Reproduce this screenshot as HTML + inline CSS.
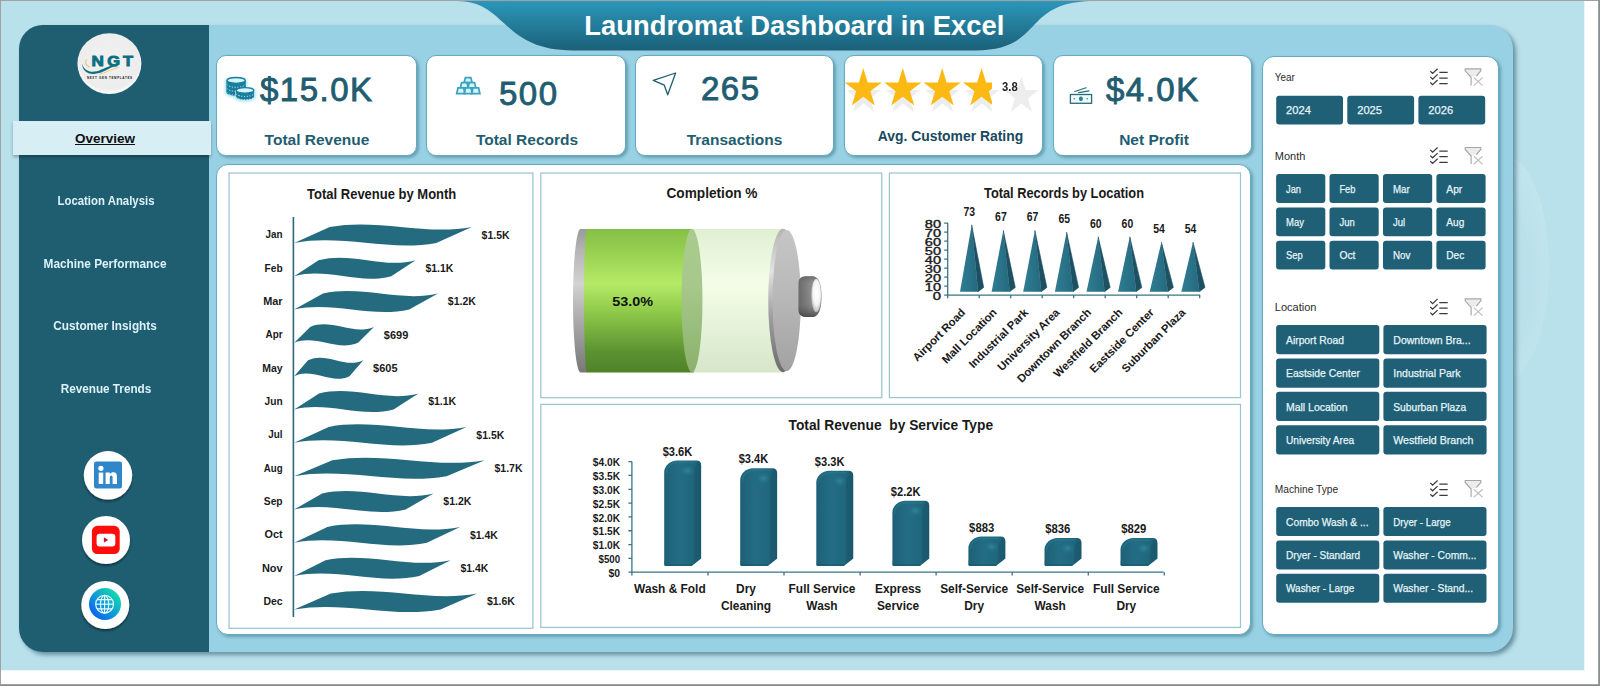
<!DOCTYPE html>
<html lang="en">
<head>
<meta charset="utf-8">
<title>Laundromat Dashboard in Excel</title>
<style>
html,body{margin:0;padding:0;}
body{width:1600px;height:686px;position:relative;overflow:hidden;background:#ffffff;font-family:"Liberation Sans",sans-serif;color:#111;}
.abs{position:absolute;}
#gray{left:0;top:0;width:1600px;height:686px;background:#8a8c8d;}
#white{left:1px;top:1px;width:1597px;height:683px;background:#fff;box-shadow:0 0 0 .6px #aeb4b6;}
#bg{left:1px;top:1px;width:1583px;height:669px;background:#b9e1eb;overflow:hidden;box-shadow:.6px .6px 0 0 #dcf0f5;}
#arc{left:1461px;top:156px;width:88px;height:224px;border-radius:50%;background:radial-gradient(ellipse at 35% 55%,rgba(255,255,255,0) 45%,rgba(255,255,255,.12) 75%,rgba(255,255,255,.4) 100%);}
#panel{left:19px;top:25px;width:1494px;height:627px;border-radius:24px;background:#98d1e4;box-shadow:3px 3px 4px rgba(40,80,100,.55);}
#sidebar{left:19px;top:25px;width:190px;height:627px;border-radius:24px 0 0 24px;background:#1f5d71;}
#tab{left:13px;top:121px;width:198px;height:34px;background:#d8eef5;box-shadow:0 2px 3px rgba(0,0,0,.3);}
.nav{width:180px;text-align:center;color:#dcf2f8;font-weight:bold;font-size:12.3px;line-height:16px;white-space:nowrap;transform-origin:50% 50%;}
.card{background:#fff;border:1px solid #62abc0;border-radius:10px;box-sizing:border-box;box-shadow:2px 2px 3px rgba(50,100,120,.45);}
.kv{color:#1f5d71;font-size:33px;line-height:36px;white-space:nowrap;letter-spacing:1.5px;-webkit-text-stroke:.9px #1f5d71;}
.kl{color:#1f5d71;font-size:15.5px;font-weight:bold;line-height:18px;white-space:nowrap;text-align:center;}
</style>
</head>
<body>
<div id="gray" class="abs"></div>
<div id="white" class="abs"></div>
<div id="bg" class="abs"></div>
<div id="arc" class="abs"></div>
<div id="panel" class="abs"></div>
<div id="sidebar" class="abs"></div>

<!-- header banner -->
<svg class="abs" style="left:0;top:0" width="1600" height="60" viewBox="0 0 1600 60">
<defs><linearGradient id="bn" x1="0" y1="0" x2="0" y2="1"><stop offset="0" stop-color="#2b97ba"/><stop offset="1" stop-color="#1b6078"/></linearGradient></defs>
<path d="M457 1 C507 1 501 50.5 573 50.5 L975 50.5 C1046 50.5 1020 1 1095 1 Z" fill="url(#bn)"/>
</svg>
<div class="abs" id="title" style="left:584.3px;top:8.6px;color:#fff;font-weight:bold;font-size:27.4px;line-height:34px;white-space:nowrap;">Laundromat Dashboard in Excel</div>

<!-- sidebar -->
<div id="tab" class="abs"></div>
<div class="abs" style="left:13px;top:130px;width:184px;text-align:center;font-weight:bold;font-size:13.5px;line-height:17px;text-decoration:underline;color:#111;">Overview</div>
<div class="abs nav" style="left:15.5px;top:193px;transform:scaleX(.925);">Location Analysis</div>
<div class="abs nav" style="left:14.7px;top:256px;transform:scaleX(.962);">Machine Performance</div>
<div class="abs nav" style="left:14.9px;top:318px;transform:scaleX(.96);">Customer Insights</div>
<div class="abs nav" style="left:16px;top:381px;transform:scaleX(.954);">Revenue Trends</div>

<!-- logo -->
<svg class="abs" style="left:70px;top:25px" width="80" height="76" viewBox="70 25 80 76">
<defs><radialGradient id="lg" cx=".5" cy=".45" r=".55"><stop offset="0" stop-color="#f1f1f1"/><stop offset=".85" stop-color="#ededed"/><stop offset="1" stop-color="#fbfbfb"/></radialGradient></defs>
<ellipse cx="109.4" cy="63.6" rx="32" ry="30.4" fill="url(#lg)"/>
<path d="M82.1 63.4 C83.5 69.5 88.5 72.2 94.5 71.6 C101.5 70.9 106 66.6 111.5 65.8 C114.5 65.4 117 66 119 66.8 C116 66.4 113.5 66.6 110.8 67.8 C105.5 70.2 101.5 73.6 94 73.9 C86.5 74.2 82.2 69.8 82.1 63.4 Z" fill="#0e6f82"/>
<path d="M86.6 59.6 C84.4 62 85.6 65.2 89.6 67.2" fill="none" stroke="#ecc36b" stroke-width="1.1"/>
<path d="M99 74.2 C106 73.2 111 69 118.8 67.2" fill="none" stroke="#ecc36b" stroke-width=".8"/>
<g font-family="Liberation Sans, sans-serif" font-weight="bold" font-size="15" text-anchor="middle" fill="#0e6f82" stroke="#0e6f82" stroke-width=".9">
<text transform="translate(97.6 66.1) scale(1.14 1)">N</text>
<text transform="translate(113.7 66.1) scale(1.1 1)">G</text>
<text transform="translate(128 66.1) scale(1.1 1)">T</text>
</g>
<text x="86.9" y="78.5" font-family="Liberation Sans, sans-serif" font-weight="bold" font-size="3" textLength="45.2" lengthAdjust="spacing" fill="#222">NEXT GEN TEMPLATES</text>
</svg>

<!-- social icons -->
<svg class="abs" style="left:70px;top:440px" width="80" height="200" viewBox="70 440 80 200">
<defs>
<linearGradient id="gg" x1="1" y1="0" x2="0" y2="1"><stop offset=".15" stop-color="#14d9ae"/><stop offset=".5" stop-color="#0f9fd8"/><stop offset=".9" stop-color="#0a5cf2"/></linearGradient>
<filter id="sh" x="-20%" y="-20%" width="140%" height="150%"><feGaussianBlur in="SourceAlpha" stdDeviation="1.2"/><feOffset dx="0" dy="1.5"/><feComponentTransfer><feFuncA type="linear" slope=".45"/></feComponentTransfer><feMerge><feMergeNode/><feMergeNode in="SourceGraphic"/></feMerge></filter>
</defs>
<circle cx="108" cy="475.3" r="24.2" fill="#fff" filter="url(#sh)"/>
<rect x="94" y="461.6" width="28" height="27" rx="2.5" fill="#2f86c9"/>
<circle cx="100.9" cy="468.3" r="2.6" fill="#fff"/>
<rect x="98.7" y="472.6" width="4.5" height="11.3" fill="#fff"/>
<path d="M105.6 472.6 h4.2 v1.6 c1-1.3 2.2-1.9 3.7-1.9 c2.6 0 3.5 1.9 3.5 4.6 v7 h-4.4 v-6.2 c0-1.3-.4-2.1-1.4-2.1 c-1 0-1.4.8-1.4 2.1 v6.2 h-4.2 z" fill="#fff"/>
<circle cx="106" cy="540" r="24" fill="#fff" filter="url(#sh)"/>
<rect x="91.9" y="525.8" width="27.8" height="28.2" rx="5.5" fill="#fe0d0d"/>
<rect x="96.6" y="533.8" width="18.7" height="12.6" rx="3.2" fill="#fff"/>
<path d="M103.9 537.3 L108.3 539.9 L103.9 542.5 Z" fill="#d40f2c"/>
<circle cx="105.3" cy="605" r="24" fill="#fff" filter="url(#sh)"/>
<circle cx="105" cy="604" r="16" fill="url(#gg)"/>
<g fill="none" stroke="#e8fbff" stroke-width="1.15">
<circle cx="104.6" cy="604.2" r="8.9"/>
<ellipse cx="104.6" cy="604.2" rx="4.1" ry="8.9"/>
<line x1="104.6" y1="595.3" x2="104.6" y2="613.1"/>
<line x1="95.7" y1="604.2" x2="113.5" y2="604.2"/>
<path d="M97 599.6 H112.2 M97 608.8 H112.2"/>
</g>
</svg>

<!-- KPI cards -->
<div class="abs card" style="left:216px;top:55px;width:201px;height:101px;"></div>
<div class="abs card" style="left:426px;top:55px;width:200px;height:101px;"></div>
<div class="abs card" style="left:635px;top:55px;width:199px;height:101px;"></div>
<div class="abs card" style="left:844px;top:55px;width:199px;height:101px;"></div>
<div class="abs card" style="left:1053px;top:55px;width:199px;height:101px;"></div>

<!-- KPI icons -->
<svg class="abs" style="left:216px;top:55px" width="1040" height="100" viewBox="216 55 1040 100">
<defs>
<filter id="glow" x="-30%" y="-30%" width="160%" height="160%"><feGaussianBlur stdDeviation="1.6"/></filter>
<clipPath id="sc"><rect x="840" y="60" width="152" height="60"/></clipPath>
</defs>
<!-- coins -->
<g>
<path d="M226.4 80.4 v12 a9.7 3.5 0 0 0 19.4 0 v-12 z M235.6 90.4 v6.4 a9.4 3.4 0 0 0 18.8 0 v-6.4z" fill="#9be6ef" stroke="#9be6ef" stroke-width="2.5" filter="url(#glow)"/>
<path d="M226.4 80.4 v12 a9.7 3.5 0 0 0 19.4 0 v-12 z" fill="#1a7d9e"/>
<ellipse cx="236.1" cy="80.4" rx="9.1" ry="2.9" fill="#d3f5fa" stroke="#1a7d9e" stroke-width="1.3"/>
<path d="M227.2 84.6 a9 3.2 0 0 0 17.8 0 M227.2 88.6 a9 3.2 0 0 0 17.8 0 M227.2 92.4 a9 3.2 0 0 0 17.8 0" fill="none" stroke="#d9f7fb" stroke-width="1" stroke-dasharray="1 1.7"/>
<path d="M235.6 90.4 v6.4 a9.4 3.4 0 0 0 18.8 0 v-6.4z" fill="#1a7d9e" stroke="#fff" stroke-width=".6"/>
<ellipse cx="245" cy="90.4" rx="8.8" ry="2.8" fill="#d3f5fa" stroke="#1a7d9e" stroke-width="1.3"/>
<path d="M236.4 94 a8.8 3.1 0 0 0 17.2 0 M236.4 97.4 a8.8 3.1 0 0 0 17.2 0" fill="none" stroke="#d9f7fb" stroke-width="1" stroke-dasharray="1 1.7"/>
</g>
<!-- gold bars -->
<g fill="#cdf6fb" stroke="#3fa1bc" stroke-width="1.75" stroke-linejoin="miter">
<path d="M465.4 77.5 h5.4 l1.3 5 h-8 z"/>
<path d="M461.6 82.5 h5.4 l1.2 5.3 h-7.8 z"/>
<path d="M469.2 82.5 h5.4 l1.2 5.3 h-7.8 z"/>
<path d="M458 87.8 h5.6 l1.3 5.8 h-8.2 z"/>
<path d="M465.6 87.8 h5.4 l1.3 5.8 h-8 z"/>
<path d="M473 87.8 h5.6 l1.3 5.8 h-8.2 z"/>
</g>
<!-- nav arrow -->
<path d="M675.6 73 L653.3 80.4 L664.3 85.2 L667.7 94.8 Z" fill="none" stroke="#1f5d71" stroke-width="1.3" stroke-linejoin="round"/>
<!-- stars -->
<path d="M863.6 76.5 L867.7 90.1 L880.8 90.1 L870.2 98.4 L874.2 111.9 L863.6 103.6 L853.0 111.9 L857.0 98.4 L846.4 90.1 L859.5 90.1ZM903.1 76.5 L907.1 90.1 L920.2 90.1 L909.6 98.4 L913.7 111.9 L903.1 103.6 L892.4 111.9 L896.5 98.4 L885.9 90.1 L899.0 90.1ZM942.5 76.5 L946.6 90.1 L959.7 90.1 L949.1 98.4 L953.1 111.9 L942.5 103.6 L931.9 111.9 L935.9 98.4 L925.3 90.1 L938.4 90.1ZM982.0 76.5 L986.0 90.1 L999.1 90.1 L988.5 98.4 L992.6 111.9 L982.0 103.6 L971.3 111.9 L975.4 98.4 L964.8 90.1 L977.9 90.1ZM1021.4 76.5 L1025.5 90.1 L1038.6 90.1 L1028.0 98.4 L1032.0 111.9 L1021.4 103.6 L1010.8 111.9 L1014.8 98.4 L1004.2 90.1 L1017.3 90.1Z" fill="#ededed"/>
<path d="M863.3 68.0 L867.7 82.4 L881.9 82.4 L870.4 91.3 L874.8 105.6 L863.3 96.7 L851.8 105.6 L856.2 91.3 L844.7 82.4 L858.9 82.4ZM902.8 68.0 L907.2 82.4 L921.4 82.4 L909.9 91.3 L914.3 105.6 L902.8 96.7 L891.2 105.6 L895.6 91.3 L884.1 82.4 L898.3 82.4ZM942.2 68.0 L946.6 82.4 L960.8 82.4 L949.3 91.3 L953.7 105.6 L942.2 96.7 L930.7 105.6 L935.1 91.3 L923.6 82.4 L937.8 82.4ZM981.6 68.0 L986.1 82.4 L1000.3 82.4 L988.8 91.3 L993.2 105.6 L981.6 96.7 L970.1 105.6 L974.5 91.3 L963.0 82.4 L977.2 82.4ZM1021.1 68.0 L1025.5 82.4 L1039.7 82.4 L1028.2 91.3 L1032.6 105.6 L1021.1 96.7 L1009.6 105.6 L1014.0 91.3 L1002.5 82.4 L1016.7 82.4Z" fill="#fdb913" clip-path="url(#sc)"/>
<!-- money -->
<g fill="none" stroke="#2a6c7c" stroke-width="1.3">
<rect x="1070.4" y="94.5" width="21.2" height="8.8" fill="#eefafc"/>
<path d="M1074.8 91.5 L1086 87.7 M1078.8 92.7 L1089 90.9" stroke-width="1.2" stroke-linecap="round"/>
</g>
<ellipse cx="1080.9" cy="98.8" rx="2" ry="2.4" fill="#26888a"/>
<circle cx="1074.3" cy="98.8" r=".7" fill="#2a6c7c"/><circle cx="1087.2" cy="98.8" r=".7" fill="#2a6c7c"/>
</svg>

<!-- KPI contents -->
<div class="abs kv" id="k1" style="left:260px;top:72px;">$15.0K</div>
<div class="abs kl" id="l1" style="left:217px;top:131px;width:200px;">Total Revenue</div>
<div class="abs kv" id="k2" style="left:499px;top:76px;">500</div>
<div class="abs kl" id="l2" style="left:427px;top:131px;width:200px;">Total Records</div>
<div class="abs kv" id="k3" style="left:701px;top:71px;">265</div>
<div class="abs kl" id="l3" style="left:635px;top:131px;width:199px;">Transactions</div>
<div class="abs kl" id="l4" style="left:844px;top:127px;width:213px;font-size:13.9px;color:#18495e;">Avg. Customer Rating</div>
<div class="abs kv" id="k5" style="left:1106px;top:72px;">$4.0K</div>
<div class="abs kl" id="l5" style="left:1054px;top:131px;width:200px;">Net Profit</div>
<div class="abs" id="r38" style="left:1002px;top:79.5px;font-size:12.5px;font-weight:bold;color:#222;line-height:14px;transform:scaleX(.9);transform-origin:0 0;">3.8</div>

<!-- charts container -->
<div class="abs card" style="left:216px;top:164px;width:1035px;height:471px;border-radius:12px;"></div>

<!--CHARTS-START-->
<svg class="abs" style="left:216px;top:164px" width="1040" height="474" viewBox="216 164 1040 474" font-family="Liberation Sans, sans-serif">
<defs>
<linearGradient id="gGreen" x1="0" y1="0" x2="0" y2="1"><stop offset="0" stop-color="#86bf47"/><stop offset=".12" stop-color="#92cc4d"/><stop offset=".38" stop-color="#b4ea66"/><stop offset=".55" stop-color="#94cf4d"/><stop offset=".85" stop-color="#5c9431"/><stop offset="1" stop-color="#4e8228"/></linearGradient>
<linearGradient id="gLight" x1="0" y1="0" x2="0" y2="1"><stop offset="0" stop-color="#dfefd2"/><stop offset=".12" stop-color="#e6f5da"/><stop offset=".38" stop-color="#f4fde9"/><stop offset=".6" stop-color="#e9f6dd"/><stop offset="1" stop-color="#d6e6c9"/></linearGradient>
<linearGradient id="gGrayL" x1="0" y1="0" x2="0" y2="1"><stop offset="0" stop-color="#9a9a9a"/><stop offset=".15" stop-color="#b5b5b5"/><stop offset=".38" stop-color="#d2d2d2"/><stop offset=".6" stop-color="#b0b0b0"/><stop offset="1" stop-color="#787878"/></linearGradient>
<linearGradient id="gCap" x1="0" y1="0" x2="0" y2="1"><stop offset="0" stop-color="#c6c6c6"/><stop offset=".5" stop-color="#b7b7b7"/><stop offset="1" stop-color="#a2a2a2"/></linearGradient>
<linearGradient id="gRim" x1="0" y1="0" x2="0" y2="1"><stop offset="0" stop-color="#b4b4b4"/><stop offset=".3" stop-color="#e2e2e2"/><stop offset=".6" stop-color="#a0a0a0"/><stop offset="1" stop-color="#6c6c6c"/></linearGradient>
<linearGradient id="gNub" x1="0" y1="0" x2="1" y2="0"><stop offset="0" stop-color="#6a6a6a"/><stop offset=".3" stop-color="#7c7c7c"/><stop offset=".55" stop-color="#8e8e8e"/><stop offset="1" stop-color="#9a9a9a"/></linearGradient>
<linearGradient id="gNubV" x1="0" y1="0" x2="0" y2="1"><stop offset="0" stop-color="#555" stop-opacity=".55"/><stop offset=".2" stop-color="#777" stop-opacity="0"/><stop offset=".7" stop-color="#555" stop-opacity=".1"/><stop offset="1" stop-color="#333" stop-opacity=".7"/></linearGradient>
<radialGradient id="gNubF" cx=".55" cy=".42" r=".6"><stop offset="0" stop-color="#ffffff"/><stop offset=".6" stop-color="#f4f4f4"/><stop offset="1" stop-color="#b4b4b4"/></radialGradient>
<linearGradient id="gFace" x1="0" y1="0" x2="0" y2="1"><stop offset="0" stop-color="#a9cb8d"/><stop offset=".4" stop-color="#a6c88a"/><stop offset="1" stop-color="#8bb16c"/></linearGradient>
<linearGradient id="gPyr" x1="0" y1="0" x2="1" y2="0"><stop offset="0" stop-color="#2f7d94"/><stop offset="1" stop-color="#25697e"/></linearGradient>
<linearGradient id="gBar" x1="0" y1="0" x2="1" y2="0"><stop offset="0" stop-color="#1f6076"/><stop offset=".5" stop-color="#25697f"/><stop offset="1" stop-color="#1f6076"/></linearGradient>
<radialGradient id="gHi"><stop offset="0" stop-color="#3a95ab" stop-opacity=".6"/><stop offset=".45" stop-color="#2c8299" stop-opacity=".35"/><stop offset="1" stop-color="#1f687e" stop-opacity="0"/></radialGradient>
<linearGradient id="gBarF" x1="0" y1="0" x2="1" y2="0"><stop offset="0" stop-color="#1d6077"/><stop offset=".4" stop-color="#236d84"/><stop offset=".8" stop-color="#1f667c"/><stop offset="1" stop-color="#1d6077"/></linearGradient>
<linearGradient id="gBarTop" x1="0" y1="0" x2="1" y2="0"><stop offset="0" stop-color="#1f6379"/><stop offset=".75" stop-color="#2c7d94"/><stop offset="1" stop-color="#236a80"/></linearGradient>
</defs>
<rect x="229.0" y="173.0" width="303.9" height="455.3" fill="#fff" stroke="#9dc5cf" stroke-width="1.25"/>
<rect x="540.8" y="173.0" width="341.0" height="224.7" fill="#fff" stroke="#9dc5cf" stroke-width="1.25"/>
<rect x="889.4" y="173.0" width="351.1" height="224.6" fill="#fff" stroke="#9dc5cf" stroke-width="1.25"/>
<rect x="540.8" y="404.4" width="699.7" height="223.0" fill="#fff" stroke="#9dc5cf" stroke-width="1.25"/>
<text x="381.7" y="198.5" font-size="14" font-weight="bold" text-anchor="middle" fill="#1a1a1a" textLength="149.2" lengthAdjust="spacingAndGlyphs" >Total Revenue by Month</text>
<line x1="293.4" y1="217" x2="293.4" y2="617" stroke="#2c677b" stroke-width="1.6"/>
<path d="M329.7 227.0 C377.1 218.1 424.4 235.8 471.8 227.0 L436.3 242.9 C388.9 251.7 341.6 234.0 294.2 242.9Z M318.5 260.3 C350.9 251.4 383.2 269.1 415.6 260.3 L391.3 276.2 C358.9 285.0 326.6 267.3 294.2 276.2Z M323.0 293.6 C361.3 284.8 399.7 302.4 438.0 293.6 L409.2 309.5 C370.9 318.3 332.5 300.7 294.2 309.5Z M310.2 326.9 C331.4 318.1 352.7 335.8 374.0 326.9 L358.0 342.8 C336.8 351.7 315.5 334.0 294.2 342.8Z M308.0 360.3 C326.4 351.4 344.9 369.1 363.3 360.3 L349.5 376.2 C331.1 385.0 312.6 367.3 294.2 376.2Z M319.0 393.6 C352.2 384.8 385.3 402.4 418.4 393.6 L393.6 409.5 C360.4 418.3 327.3 400.7 294.2 409.5Z M328.7 426.9 C374.6 418.1 420.6 435.8 466.5 426.9 L432.0 442.8 C386.1 451.7 340.1 434.0 294.2 442.8Z M332.3 460.3 C383.1 451.4 433.9 469.1 484.7 460.3 L446.6 476.2 C395.8 485.0 345.0 467.3 294.2 476.2Z M322.1 493.6 C359.2 484.8 396.4 502.4 433.5 493.6 L405.6 509.5 C368.5 518.3 331.3 500.7 294.2 509.5Z M327.4 526.9 C371.6 518.1 415.9 535.8 460.1 526.9 L426.9 542.8 C382.7 551.7 338.4 534.0 294.2 542.8Z M325.5 560.2 C367.2 551.4 408.9 569.1 450.6 560.2 L419.3 576.1 C377.6 585.0 335.9 567.3 294.2 576.1Z M330.8 593.6 C379.6 584.7 428.3 602.4 477.1 593.6 L440.5 609.5 C391.7 618.3 343.0 600.6 294.2 609.5Z" fill="#256b80"/>
<text x="282.6" y="238.2" font-size="11" font-weight="bold" text-anchor="end" fill="#1a1a1a" textLength="17.1" lengthAdjust="spacingAndGlyphs" >Jan</text>
<text x="481.6" y="238.5" font-size="11.2" font-weight="bold" text-anchor="start" fill="#1a1a1a" textLength="28.0" lengthAdjust="spacingAndGlyphs" >$1.5K</text>
<text x="282.6" y="271.5" font-size="11" font-weight="bold" text-anchor="end" fill="#1a1a1a" textLength="18.1" lengthAdjust="spacingAndGlyphs" >Feb</text>
<text x="425.4" y="271.8" font-size="11.2" font-weight="bold" text-anchor="start" fill="#1a1a1a" textLength="28.0" lengthAdjust="spacingAndGlyphs" >$1.1K</text>
<text x="282.6" y="304.9" font-size="11" font-weight="bold" text-anchor="end" fill="#1a1a1a" textLength="19.4" lengthAdjust="spacingAndGlyphs" >Mar</text>
<text x="447.8" y="305.2" font-size="11.2" font-weight="bold" text-anchor="start" fill="#1a1a1a" textLength="28.0" lengthAdjust="spacingAndGlyphs" >$1.2K</text>
<text x="282.6" y="338.2" font-size="11" font-weight="bold" text-anchor="end" fill="#1a1a1a" textLength="17.1" lengthAdjust="spacingAndGlyphs" >Apr</text>
<text x="383.8" y="338.5" font-size="11.2" font-weight="bold" text-anchor="start" fill="#1a1a1a" textLength="24.5" lengthAdjust="spacingAndGlyphs" >$699</text>
<text x="282.6" y="371.5" font-size="11" font-weight="bold" text-anchor="end" fill="#1a1a1a" textLength="20.4" lengthAdjust="spacingAndGlyphs" >May</text>
<text x="373.1" y="371.8" font-size="11.2" font-weight="bold" text-anchor="start" fill="#1a1a1a" textLength="24.5" lengthAdjust="spacingAndGlyphs" >$605</text>
<text x="282.6" y="404.8" font-size="11" font-weight="bold" text-anchor="end" fill="#1a1a1a" textLength="18.0" lengthAdjust="spacingAndGlyphs" >Jun</text>
<text x="428.2" y="405.1" font-size="11.2" font-weight="bold" text-anchor="start" fill="#1a1a1a" textLength="28.0" lengthAdjust="spacingAndGlyphs" >$1.1K</text>
<text x="282.6" y="438.2" font-size="11" font-weight="bold" text-anchor="end" fill="#1a1a1a" textLength="14.3" lengthAdjust="spacingAndGlyphs" >Jul</text>
<text x="476.3" y="438.5" font-size="11.2" font-weight="bold" text-anchor="start" fill="#1a1a1a" textLength="28.0" lengthAdjust="spacingAndGlyphs" >$1.5K</text>
<text x="282.6" y="471.5" font-size="11" font-weight="bold" text-anchor="end" fill="#1a1a1a" textLength="18.8" lengthAdjust="spacingAndGlyphs" >Aug</text>
<text x="494.5" y="471.8" font-size="11.2" font-weight="bold" text-anchor="start" fill="#1a1a1a" textLength="28.0" lengthAdjust="spacingAndGlyphs" >$1.7K</text>
<text x="282.6" y="504.8" font-size="11" font-weight="bold" text-anchor="end" fill="#1a1a1a" textLength="18.8" lengthAdjust="spacingAndGlyphs" >Sep</text>
<text x="443.3" y="505.1" font-size="11.2" font-weight="bold" text-anchor="start" fill="#1a1a1a" textLength="28.0" lengthAdjust="spacingAndGlyphs" >$1.2K</text>
<text x="282.6" y="538.2" font-size="11" font-weight="bold" text-anchor="end" fill="#1a1a1a" textLength="18.0" lengthAdjust="spacingAndGlyphs" >Oct</text>
<text x="469.9" y="538.5" font-size="11.2" font-weight="bold" text-anchor="start" fill="#1a1a1a" textLength="28.0" lengthAdjust="spacingAndGlyphs" >$1.4K</text>
<text x="282.6" y="571.5" font-size="11" font-weight="bold" text-anchor="end" fill="#1a1a1a" textLength="20.7" lengthAdjust="spacingAndGlyphs" >Nov</text>
<text x="460.4" y="571.8" font-size="11.2" font-weight="bold" text-anchor="start" fill="#1a1a1a" textLength="28.0" lengthAdjust="spacingAndGlyphs" >$1.4K</text>
<text x="282.6" y="604.8" font-size="11" font-weight="bold" text-anchor="end" fill="#1a1a1a" textLength="19.2" lengthAdjust="spacingAndGlyphs" >Dec</text>
<text x="486.9" y="605.1" font-size="11.2" font-weight="bold" text-anchor="start" fill="#1a1a1a" textLength="28.0" lengthAdjust="spacingAndGlyphs" >$1.6K</text>
<text x="712.0" y="198.3" font-size="14" font-weight="bold" text-anchor="middle" fill="#1a1a1a" textLength="91.0" lengthAdjust="spacingAndGlyphs" >Completion %</text>
<path d="M587.5 229 H580.5 A7.5 71.7 0 0 0 580.5 372.4 H587.5 Z" fill="url(#gGrayL)"/>
<path d="M587 229 H694 V372.4 H587 A3 71.7 0 0 1 587 229Z" fill="url(#gGreen)"/>
<path d="M692 229 H784 V372.4 H692 A10.5 71.7 0 0 0 692 229Z" fill="url(#gLight)"/>
<ellipse cx="692" cy="300.7" rx="10.5" ry="71.7" fill="url(#gFace)"/>
<ellipse cx="783" cy="300.5" rx="14.8" ry="71.7" fill="url(#gRim)"/>
<ellipse cx="786.7" cy="300.5" rx="14.2" ry="70.6" fill="url(#gCap)"/>
<path d="M798.5 283 Q798.5 276.2 806 276.2 H813.5 Q821.6 278 821.6 296.5 Q821.6 315 813.5 316.9 H806 Q798.5 316.9 798.5 310Z" fill="url(#gNub)"/>
<path d="M798.5 283 Q798.5 276.2 806 276.2 H813.5 Q821.6 278 821.6 296.5 Q821.6 315 813.5 316.9 H806 Q798.5 316.9 798.5 310Z" fill="url(#gNubV)"/>
<ellipse cx="816.2" cy="295.6" rx="4.9" ry="16.6" fill="url(#gNubF)"/>
<text x="632.7" y="305.6" font-size="13.5" font-weight="bold" text-anchor="middle" fill="#111" textLength="40.8" lengthAdjust="spacingAndGlyphs" >53.0%</text>
<text x="1064.0" y="198.3" font-size="14" font-weight="bold" text-anchor="middle" fill="#1a1a1a" textLength="160.0" lengthAdjust="spacingAndGlyphs" >Total Records by Location</text>
<path d="M947.7 222.8 V295.1 H1200.2 M944.2 295.1 H947.7 M944.2 286.1 H947.7 M944.2 277.1 H947.7 M944.2 268.1 H947.7 M944.2 259.1 H947.7 M944.2 250.2 H947.7 M944.2 241.2 H947.7 M944.2 232.2 H947.7 M944.2 223.2 H947.7 M947.7 295.1 V298.3 M979.2 295.1 V298.3 M1010.7 295.1 V298.3 M1042.2 295.1 V298.3 M1073.7 295.1 V298.3 M1105.2 295.1 V298.3 M1136.7 295.1 V298.3 M1168.2 295.1 V298.3 M1199.7 295.1 V298.3" fill="none" stroke="#3a7587" stroke-width="1.3"/>
<text x="941.0" y="299.7" font-size="10" font-weight="normal" text-anchor="end" fill="#1a1a1a" textLength="8.2" lengthAdjust="spacingAndGlyphs" stroke="#1a1a1a" stroke-width=".35">0</text>
<text x="941.0" y="290.7" font-size="10" font-weight="normal" text-anchor="end" fill="#1a1a1a" textLength="16.2" lengthAdjust="spacingAndGlyphs" stroke="#1a1a1a" stroke-width=".35">10</text>
<text x="941.0" y="281.7" font-size="10" font-weight="normal" text-anchor="end" fill="#1a1a1a" textLength="16.2" lengthAdjust="spacingAndGlyphs" stroke="#1a1a1a" stroke-width=".35">20</text>
<text x="941.0" y="272.7" font-size="10" font-weight="normal" text-anchor="end" fill="#1a1a1a" textLength="16.2" lengthAdjust="spacingAndGlyphs" stroke="#1a1a1a" stroke-width=".35">30</text>
<text x="941.0" y="263.7" font-size="10" font-weight="normal" text-anchor="end" fill="#1a1a1a" textLength="16.2" lengthAdjust="spacingAndGlyphs" stroke="#1a1a1a" stroke-width=".35">40</text>
<text x="941.0" y="254.8" font-size="10" font-weight="normal" text-anchor="end" fill="#1a1a1a" textLength="16.2" lengthAdjust="spacingAndGlyphs" stroke="#1a1a1a" stroke-width=".35">50</text>
<text x="941.0" y="245.8" font-size="10" font-weight="normal" text-anchor="end" fill="#1a1a1a" textLength="16.2" lengthAdjust="spacingAndGlyphs" stroke="#1a1a1a" stroke-width=".35">60</text>
<text x="941.0" y="236.8" font-size="10" font-weight="normal" text-anchor="end" fill="#1a1a1a" textLength="16.2" lengthAdjust="spacingAndGlyphs" stroke="#1a1a1a" stroke-width=".35">70</text>
<text x="941.0" y="227.8" font-size="10" font-weight="normal" text-anchor="end" fill="#1a1a1a" textLength="16.2" lengthAdjust="spacingAndGlyphs" stroke="#1a1a1a" stroke-width=".35">80</text>
<path d="M971.7 224.9 L978.1 291.7 L983.7 287.4Z M1003.3 230.4 L1009.7 291.7 L1015.3 287.4Z M1034.9 230.4 L1041.3 291.7 L1046.9 287.4Z M1066.6 232.2 L1073.0 291.7 L1078.6 287.4Z M1098.2 236.8 L1104.6 291.7 L1110.2 287.4Z M1129.8 236.8 L1136.2 291.7 L1141.8 287.4Z M1161.4 242.3 L1167.8 291.7 L1173.4 287.4Z M1193.0 242.3 L1199.4 291.7 L1205.0 287.4Z" fill="#1c5163" stroke="#1c5163" stroke-width=".6" stroke-linejoin="round"/>
<path d="M971.7 224.9 L960.0 291.7 L978.1 291.7Z" fill="url(#gPyr)"/>
<path d="M1003.3 230.4 L991.6 291.7 L1009.7 291.7Z" fill="url(#gPyr)"/>
<path d="M1034.9 230.4 L1023.2 291.7 L1041.3 291.7Z" fill="url(#gPyr)"/>
<path d="M1066.6 232.2 L1054.9 291.7 L1073.0 291.7Z" fill="url(#gPyr)"/>
<path d="M1098.2 236.8 L1086.5 291.7 L1104.6 291.7Z" fill="url(#gPyr)"/>
<path d="M1129.8 236.8 L1118.1 291.7 L1136.2 291.7Z" fill="url(#gPyr)"/>
<path d="M1161.4 242.3 L1149.7 291.7 L1167.8 291.7Z" fill="url(#gPyr)"/>
<path d="M1193.0 242.3 L1181.3 291.7 L1199.4 291.7Z" fill="url(#gPyr)"/>
<text x="969.3" y="215.7" font-size="12.2" font-weight="bold" text-anchor="middle" fill="#1a1a1a" textLength="11.6" lengthAdjust="spacingAndGlyphs" >73</text>
<text x="1000.9" y="221.2" font-size="12.2" font-weight="bold" text-anchor="middle" fill="#1a1a1a" textLength="11.6" lengthAdjust="spacingAndGlyphs" >67</text>
<text x="1032.5" y="221.2" font-size="12.2" font-weight="bold" text-anchor="middle" fill="#1a1a1a" textLength="11.6" lengthAdjust="spacingAndGlyphs" >67</text>
<text x="1064.2" y="223.0" font-size="12.2" font-weight="bold" text-anchor="middle" fill="#1a1a1a" textLength="11.6" lengthAdjust="spacingAndGlyphs" >65</text>
<text x="1095.8" y="227.6" font-size="12.2" font-weight="bold" text-anchor="middle" fill="#1a1a1a" textLength="11.6" lengthAdjust="spacingAndGlyphs" >60</text>
<text x="1127.4" y="227.6" font-size="12.2" font-weight="bold" text-anchor="middle" fill="#1a1a1a" textLength="11.6" lengthAdjust="spacingAndGlyphs" >60</text>
<text x="1159.0" y="233.1" font-size="12.2" font-weight="bold" text-anchor="middle" fill="#1a1a1a" textLength="11.6" lengthAdjust="spacingAndGlyphs" >54</text>
<text x="1190.6" y="233.1" font-size="12.2" font-weight="bold" text-anchor="middle" fill="#1a1a1a" textLength="11.6" lengthAdjust="spacingAndGlyphs" >54</text>
<text transform="translate(966.0 313.2) rotate(-45)" font-size="11.3" font-weight="bold" text-anchor="end" fill="#1a1a1a">Airport Road</text>
<text transform="translate(997.5 313.2) rotate(-45)" font-size="11.3" font-weight="bold" text-anchor="end" fill="#1a1a1a">Mall Location</text>
<text transform="translate(1028.9 313.2) rotate(-45)" font-size="11.3" font-weight="bold" text-anchor="end" fill="#1a1a1a">Industrial Park</text>
<text transform="translate(1060.3 313.2) rotate(-45)" font-size="11.3" font-weight="bold" text-anchor="end" fill="#1a1a1a">University Area</text>
<text transform="translate(1091.8 313.2) rotate(-45)" font-size="11.3" font-weight="bold" text-anchor="end" fill="#1a1a1a">Downtown Branch</text>
<text transform="translate(1123.2 313.2) rotate(-45)" font-size="11.3" font-weight="bold" text-anchor="end" fill="#1a1a1a">Westfield Branch</text>
<text transform="translate(1154.7 313.2) rotate(-45)" font-size="11.3" font-weight="bold" text-anchor="end" fill="#1a1a1a">Eastside Center</text>
<text transform="translate(1186.2 313.2) rotate(-45)" font-size="11.3" font-weight="bold" text-anchor="end" fill="#1a1a1a">Suburban Plaza</text>
<text x="890.8" y="430.4" font-size="14" font-weight="bold" text-anchor="middle" fill="#1a1a1a" textLength="204.6" lengthAdjust="spacingAndGlyphs" xml:space="preserve">Total Revenue  by Service Type</text>
<path d="M631.9 461.4 V572.2 H1163.6 M628.4 572.20 H631.9 M628.4 558.38 H631.9 M628.4 544.56 H631.9 M628.4 530.74 H631.9 M628.4 516.92 H631.9 M628.4 503.10 H631.9 M628.4 489.28 H631.9 M628.4 475.46 H631.9 M628.4 461.64 H631.9 M631.9 572.2 V575.6 M708.0 572.2 V575.6 M784.0 572.2 V575.6 M860.1 572.2 V575.6 M936.1 572.2 V575.6 M1012.2 572.2 V575.6 M1088.3 572.2 V575.6 M1164.3 572.2 V575.6" fill="none" stroke="#3a7587" stroke-width="1.3"/>
<text x="620.1" y="576.8" font-size="10.6" font-weight="bold" text-anchor="end" fill="#1a1a1a" textLength="11.6" lengthAdjust="spacingAndGlyphs" >$0</text>
<text x="620.1" y="563.0" font-size="10.6" font-weight="bold" text-anchor="end" fill="#1a1a1a" textLength="21.6" lengthAdjust="spacingAndGlyphs" >$500</text>
<text x="620.1" y="549.2" font-size="10.6" font-weight="bold" text-anchor="end" fill="#1a1a1a" textLength="27.3" lengthAdjust="spacingAndGlyphs" >$1.0K</text>
<text x="620.1" y="535.4" font-size="10.6" font-weight="bold" text-anchor="end" fill="#1a1a1a" textLength="27.3" lengthAdjust="spacingAndGlyphs" >$1.5K</text>
<text x="620.1" y="521.6" font-size="10.6" font-weight="bold" text-anchor="end" fill="#1a1a1a" textLength="27.3" lengthAdjust="spacingAndGlyphs" >$2.0K</text>
<text x="620.1" y="507.8" font-size="10.6" font-weight="bold" text-anchor="end" fill="#1a1a1a" textLength="27.3" lengthAdjust="spacingAndGlyphs" >$2.5K</text>
<text x="620.1" y="494.0" font-size="10.6" font-weight="bold" text-anchor="end" fill="#1a1a1a" textLength="27.3" lengthAdjust="spacingAndGlyphs" >$3.0K</text>
<text x="620.1" y="480.2" font-size="10.6" font-weight="bold" text-anchor="end" fill="#1a1a1a" textLength="27.3" lengthAdjust="spacingAndGlyphs" >$3.5K</text>
<text x="620.1" y="466.4" font-size="10.6" font-weight="bold" text-anchor="end" fill="#1a1a1a" textLength="27.3" lengthAdjust="spacingAndGlyphs" >$4.0K</text>
<path d="M664.2 564.6 V471.9 C664.2 465.9 670.2 460.4 677.2 460.4 H696.6 Q701.1 460.4 701.1 465.2 V558.4 L691.7 566.1 H665.7 Q664.2 566.1 664.2 564.6Z" fill="url(#gBarF)"/>
<path d="M694.0 469.1 V564.3 L701.1 558.4 V465.2 Q701.1 461.9 698.1 461.6Z" fill="#174f62" opacity=".42"/>
<path d="M664.2 560.1 V564.6 Q664.2 566.1 665.7 566.1 H691.7 L693.7 563.9 H665.4Z" fill="#17505f" opacity=".35"/>
<ellipse cx="687.5" cy="470.6" rx="9" ry="7" fill="url(#gHi)"/>
<path d="M666.4 472.4 C666.4 467.2 671.2 462.6 677.7 462.4 H694.1" fill="none" stroke="#2b8097" stroke-width="1.6" opacity=".45" stroke-linecap="round"/>
<text x="677.5" y="455.6" font-size="12" font-weight="bold" text-anchor="middle" fill="#1a1a1a" textLength="29.6" lengthAdjust="spacingAndGlyphs" >$3.6K</text>
<text x="669.9" y="593.2" font-size="11.9" font-weight="bold" text-anchor="middle" fill="#1a1a1a" >Wash &amp; Fold</text>
<path d="M740.2 564.6 V479.7 C740.2 473.7 746.2 468.2 753.2 468.2 H772.6 Q777.1 468.2 777.1 473.0 V558.4 L767.8 566.1 H741.8 Q740.2 566.1 740.2 564.6Z" fill="url(#gBarF)"/>
<path d="M770.0 476.9 V564.3 L777.1 558.4 V473.0 Q777.1 469.7 774.1 469.4Z" fill="#174f62" opacity=".42"/>
<path d="M740.2 560.1 V564.6 Q740.2 566.1 741.8 566.1 H767.8 L769.8 563.9 H741.5Z" fill="#17505f" opacity=".35"/>
<ellipse cx="763.5" cy="478.4" rx="9" ry="7" fill="url(#gHi)"/>
<path d="M742.5 480.2 C742.5 475.0 747.2 470.4 753.8 470.2 H770.1" fill="none" stroke="#2b8097" stroke-width="1.6" opacity=".45" stroke-linecap="round"/>
<text x="753.5" y="463.4" font-size="12" font-weight="bold" text-anchor="middle" fill="#1a1a1a" textLength="29.6" lengthAdjust="spacingAndGlyphs" >$3.4K</text>
<text x="746.0" y="593.2" font-size="11.9" font-weight="bold" text-anchor="middle" fill="#1a1a1a" >Dry</text>
<text x="746.0" y="610.0" font-size="11.9" font-weight="bold" text-anchor="middle" fill="#1a1a1a" >Cleaning</text>
<path d="M816.3 564.6 V482.3 C816.3 476.3 822.3 470.8 829.3 470.8 H848.7 Q853.2 470.8 853.2 475.6 V558.4 L843.8 566.1 H817.8 Q816.3 566.1 816.3 564.6Z" fill="url(#gBarF)"/>
<path d="M846.1 479.5 V564.3 L853.2 558.4 V475.6 Q853.2 472.3 850.2 472.0Z" fill="#174f62" opacity=".42"/>
<path d="M816.3 560.1 V564.6 Q816.3 566.1 817.8 566.1 H843.8 L845.8 563.9 H817.5Z" fill="#17505f" opacity=".35"/>
<ellipse cx="839.6" cy="481.0" rx="9" ry="7" fill="url(#gHi)"/>
<path d="M818.5 482.8 C818.5 477.6 823.3 473.0 829.8 472.8 H846.2" fill="none" stroke="#2b8097" stroke-width="1.6" opacity=".45" stroke-linecap="round"/>
<text x="829.6" y="466.0" font-size="12" font-weight="bold" text-anchor="middle" fill="#1a1a1a" textLength="29.6" lengthAdjust="spacingAndGlyphs" >$3.3K</text>
<text x="822.0" y="593.2" font-size="11.9" font-weight="bold" text-anchor="middle" fill="#1a1a1a" >Full Service</text>
<text x="822.0" y="610.0" font-size="11.9" font-weight="bold" text-anchor="middle" fill="#1a1a1a" >Wash</text>
<path d="M892.4 564.6 V512.2 C892.4 506.2 898.4 500.7 905.4 500.7 H924.8 Q929.2 500.7 929.2 505.5 V558.4 L919.9 566.1 H893.9 Q892.4 566.1 892.4 564.6Z" fill="url(#gBarF)"/>
<path d="M922.1 509.4 V564.3 L929.2 558.4 V505.5 Q929.2 502.2 926.2 501.9Z" fill="#174f62" opacity=".42"/>
<path d="M892.4 560.1 V564.6 Q892.4 566.1 893.9 566.1 H919.9 L921.9 563.9 H893.6Z" fill="#17505f" opacity=".35"/>
<ellipse cx="915.6" cy="510.9" rx="9" ry="7" fill="url(#gHi)"/>
<path d="M894.6 512.7 C894.6 507.5 899.4 502.9 905.9 502.7 H922.2" fill="none" stroke="#2b8097" stroke-width="1.6" opacity=".45" stroke-linecap="round"/>
<text x="905.6" y="495.9" font-size="12" font-weight="bold" text-anchor="middle" fill="#1a1a1a" textLength="29.6" lengthAdjust="spacingAndGlyphs" >$2.2K</text>
<text x="898.1" y="593.2" font-size="11.9" font-weight="bold" text-anchor="middle" fill="#1a1a1a" >Express</text>
<text x="898.1" y="610.0" font-size="11.9" font-weight="bold" text-anchor="middle" fill="#1a1a1a" >Service</text>
<path d="M968.4 564.6 V547.9 C968.4 541.9 974.4 536.4 981.4 536.4 H1000.8 Q1005.3 536.4 1005.3 541.2 V558.4 L995.9 566.1 H969.9 Q968.4 566.1 968.4 564.6Z" fill="url(#gBarF)"/>
<path d="M998.2 545.1 V564.3 L1005.3 558.4 V541.2 Q1005.3 537.9 1002.3 537.6Z" fill="#174f62" opacity=".42"/>
<path d="M968.4 560.1 V564.6 Q968.4 566.1 969.9 566.1 H995.9 L997.9 563.9 H969.6Z" fill="#17505f" opacity=".35"/>
<ellipse cx="991.7" cy="546.6" rx="9" ry="7" fill="url(#gHi)"/>
<path d="M970.6 548.4 C970.6 543.2 975.4 538.6 981.9 538.4 H998.3" fill="none" stroke="#2b8097" stroke-width="1.6" opacity=".45" stroke-linecap="round"/>
<text x="981.7" y="531.6" font-size="12" font-weight="bold" text-anchor="middle" fill="#1a1a1a" textLength="25.2" lengthAdjust="spacingAndGlyphs" >$883</text>
<text x="974.2" y="593.2" font-size="11.9" font-weight="bold" text-anchor="middle" fill="#1a1a1a" >Self-Service</text>
<text x="974.2" y="610.0" font-size="11.9" font-weight="bold" text-anchor="middle" fill="#1a1a1a" >Dry</text>
<path d="M1044.5 564.6 V549.4 C1044.5 543.4 1050.5 537.9 1057.5 537.9 H1076.9 Q1081.4 537.9 1081.4 542.7 V558.4 L1072.0 566.1 H1046.0 Q1044.5 566.1 1044.5 564.6Z" fill="url(#gBarF)"/>
<path d="M1074.2 546.6 V564.3 L1081.4 558.4 V542.7 Q1081.4 539.4 1078.4 539.1Z" fill="#174f62" opacity=".42"/>
<path d="M1044.5 560.1 V564.6 Q1044.5 566.1 1046.0 566.1 H1072.0 L1074.0 563.9 H1045.7Z" fill="#17505f" opacity=".35"/>
<ellipse cx="1067.8" cy="548.1" rx="9" ry="7" fill="url(#gHi)"/>
<path d="M1046.7 549.9 C1046.7 544.7 1051.5 540.1 1058.0 539.9 H1074.4" fill="none" stroke="#2b8097" stroke-width="1.6" opacity=".45" stroke-linecap="round"/>
<text x="1057.8" y="533.1" font-size="12" font-weight="bold" text-anchor="middle" fill="#1a1a1a" textLength="25.2" lengthAdjust="spacingAndGlyphs" >$836</text>
<text x="1050.2" y="593.2" font-size="11.9" font-weight="bold" text-anchor="middle" fill="#1a1a1a" >Self-Service</text>
<text x="1050.2" y="610.0" font-size="11.9" font-weight="bold" text-anchor="middle" fill="#1a1a1a" >Wash</text>
<path d="M1120.5 564.6 V549.6 C1120.5 543.6 1126.5 538.1 1133.5 538.1 H1152.9 Q1157.4 538.1 1157.4 542.9 V558.4 L1148.0 566.1 H1122.0 Q1120.5 566.1 1120.5 564.6Z" fill="url(#gBarF)"/>
<path d="M1150.3 546.8 V564.3 L1157.4 558.4 V542.9 Q1157.4 539.6 1154.4 539.3Z" fill="#174f62" opacity=".42"/>
<path d="M1120.5 560.1 V564.6 Q1120.5 566.1 1122.0 566.1 H1148.0 L1150.0 563.9 H1121.7Z" fill="#17505f" opacity=".35"/>
<ellipse cx="1143.8" cy="548.3" rx="9" ry="7" fill="url(#gHi)"/>
<path d="M1122.7 550.1 C1122.7 544.9 1127.5 540.3 1134.0 540.1 H1150.4" fill="none" stroke="#2b8097" stroke-width="1.6" opacity=".45" stroke-linecap="round"/>
<text x="1133.8" y="533.3" font-size="12" font-weight="bold" text-anchor="middle" fill="#1a1a1a" textLength="25.2" lengthAdjust="spacingAndGlyphs" >$829</text>
<text x="1126.3" y="593.2" font-size="11.9" font-weight="bold" text-anchor="middle" fill="#1a1a1a" >Full Service</text>
<text x="1126.3" y="610.0" font-size="11.9" font-weight="bold" text-anchor="middle" fill="#1a1a1a" >Dry</text>
</svg>
<!--CHARTS-END-->

<!-- slicer panel -->
<div class="abs card" style="left:1262px;top:56px;width:237px;height:579px;border-radius:12px;"></div>

<!--SLICER-START-->
<svg class="abs" style="left:1262px;top:55px" width="240" height="582" viewBox="1262 55 240 582" font-family="Liberation Sans, sans-serif">
<text x="1274.8" y="81.1" font-size="11.4" fill="#2a2a2a" textLength="20.0" lengthAdjust="spacingAndGlyphs">Year</text>
<g transform="translate(0 0.0)">
<path d="M1430.3 71.2 L1432.6 73.5 L1437.6 68.8 M1430.3 76.9 L1432.6 79.1 L1437.6 74.4 M1430.3 82.5 L1432.6 84.7 L1437.6 80 M1439.3 72.4 H1447.7 M1439.3 78 H1447.7 M1439.3 83.6 H1447.7" fill="none" stroke="#3c3c3c" stroke-width="1.25"/>
<path d="M1465.2 68.8 H1480.8 V70.8 L1476.3 76 L1471.1 77.3 L1465.2 70.8Z" fill="#ececec"/>
<path d="M1476.3 76 L1480.8 70.8 V68.8 H1465.2 V70.8 L1471.1 77.3 V85.4" fill="none" stroke="#a6a6a6" stroke-width="1.15"/>
<path d="M1473.8 77.5 L1482.6 85.6 M1482.6 77.5 L1473.8 85.6" fill="none" stroke="#c2c2c2" stroke-width="1.2"/>
</g>
<rect x="1276.2" y="95.8" width="66.8" height="28.8" rx="3" fill="#206076"/><text x="1286.1" y="114.4" font-size="11.4" fill="#e6f5f9" stroke="#e6f5f9" stroke-width=".25" textLength="24.8" lengthAdjust="spacingAndGlyphs">2024</text>
<rect x="1347.3" y="95.8" width="66.8" height="28.8" rx="3" fill="#206076"/><text x="1357.2" y="114.4" font-size="11.4" fill="#e6f5f9" stroke="#e6f5f9" stroke-width=".25" textLength="24.8" lengthAdjust="spacingAndGlyphs">2025</text>
<rect x="1418.4" y="95.8" width="66.8" height="28.8" rx="3" fill="#206076"/><text x="1428.3" y="114.4" font-size="11.4" fill="#e6f5f9" stroke="#e6f5f9" stroke-width=".25" textLength="24.8" lengthAdjust="spacingAndGlyphs">2026</text>
<text x="1274.8" y="159.8" font-size="11.4" fill="#2a2a2a" textLength="30.6" lengthAdjust="spacingAndGlyphs">Month</text>
<g transform="translate(0 78.7)">
<path d="M1430.3 71.2 L1432.6 73.5 L1437.6 68.8 M1430.3 76.9 L1432.6 79.1 L1437.6 74.4 M1430.3 82.5 L1432.6 84.7 L1437.6 80 M1439.3 72.4 H1447.7 M1439.3 78 H1447.7 M1439.3 83.6 H1447.7" fill="none" stroke="#3c3c3c" stroke-width="1.25"/>
<path d="M1465.2 68.8 H1480.8 V70.8 L1476.3 76 L1471.1 77.3 L1465.2 70.8Z" fill="#ececec"/>
<path d="M1476.3 76 L1480.8 70.8 V68.8 H1465.2 V70.8 L1471.1 77.3 V85.4" fill="none" stroke="#a6a6a6" stroke-width="1.15"/>
<path d="M1473.8 77.5 L1482.6 85.6 M1482.6 77.5 L1473.8 85.6" fill="none" stroke="#c2c2c2" stroke-width="1.2"/>
</g>
<rect x="1276.1" y="174.1" width="49.2" height="28.9" rx="3" fill="#206076"/><text x="1286.0" y="192.7" font-size="11.4" fill="#e6f5f9" stroke="#e6f5f9" stroke-width=".25" textLength="15.0" lengthAdjust="spacingAndGlyphs">Jan</text>
<rect x="1329.5" y="174.1" width="49.2" height="28.9" rx="3" fill="#206076"/><text x="1339.4" y="192.7" font-size="11.4" fill="#e6f5f9" stroke="#e6f5f9" stroke-width=".25" textLength="16.0" lengthAdjust="spacingAndGlyphs">Feb</text>
<rect x="1383.0" y="174.1" width="49.2" height="28.9" rx="3" fill="#206076"/><text x="1392.9" y="192.7" font-size="11.4" fill="#e6f5f9" stroke="#e6f5f9" stroke-width=".25" textLength="16.8" lengthAdjust="spacingAndGlyphs">Mar</text>
<rect x="1436.4" y="174.1" width="49.2" height="28.9" rx="3" fill="#206076"/><text x="1446.3" y="192.7" font-size="11.4" fill="#e6f5f9" stroke="#e6f5f9" stroke-width=".25" textLength="16.0" lengthAdjust="spacingAndGlyphs">Apr</text>
<rect x="1276.1" y="207.4" width="49.2" height="28.9" rx="3" fill="#206076"/><text x="1286.0" y="226.0" font-size="11.4" fill="#e6f5f9" stroke="#e6f5f9" stroke-width=".25" textLength="17.9" lengthAdjust="spacingAndGlyphs">May</text>
<rect x="1329.5" y="207.4" width="49.2" height="28.9" rx="3" fill="#206076"/><text x="1339.4" y="226.0" font-size="11.4" fill="#e6f5f9" stroke="#e6f5f9" stroke-width=".25" textLength="15.3" lengthAdjust="spacingAndGlyphs">Jun</text>
<rect x="1383.0" y="207.4" width="49.2" height="28.9" rx="3" fill="#206076"/><text x="1392.9" y="226.0" font-size="11.4" fill="#e6f5f9" stroke="#e6f5f9" stroke-width=".25" textLength="12.2" lengthAdjust="spacingAndGlyphs">Jul</text>
<rect x="1436.4" y="207.4" width="49.2" height="28.9" rx="3" fill="#206076"/><text x="1446.3" y="226.0" font-size="11.4" fill="#e6f5f9" stroke="#e6f5f9" stroke-width=".25" textLength="18.0" lengthAdjust="spacingAndGlyphs">Aug</text>
<rect x="1276.1" y="240.7" width="49.2" height="28.9" rx="3" fill="#206076"/><text x="1286.0" y="259.3" font-size="11.4" fill="#e6f5f9" stroke="#e6f5f9" stroke-width=".25" textLength="16.8" lengthAdjust="spacingAndGlyphs">Sep</text>
<rect x="1329.5" y="240.7" width="49.2" height="28.9" rx="3" fill="#206076"/><text x="1339.4" y="259.3" font-size="11.4" fill="#e6f5f9" stroke="#e6f5f9" stroke-width=".25" textLength="16.0" lengthAdjust="spacingAndGlyphs">Oct</text>
<rect x="1383.0" y="240.7" width="49.2" height="28.9" rx="3" fill="#206076"/><text x="1392.9" y="259.3" font-size="11.4" fill="#e6f5f9" stroke="#e6f5f9" stroke-width=".25" textLength="17.5" lengthAdjust="spacingAndGlyphs">Nov</text>
<rect x="1436.4" y="240.7" width="49.2" height="28.9" rx="3" fill="#206076"/><text x="1446.3" y="259.3" font-size="11.4" fill="#e6f5f9" stroke="#e6f5f9" stroke-width=".25" textLength="18.0" lengthAdjust="spacingAndGlyphs">Dec</text>
<text x="1274.8" y="311.2" font-size="11.4" fill="#2a2a2a" textLength="41.6" lengthAdjust="spacingAndGlyphs">Location</text>
<g transform="translate(0 230.1)">
<path d="M1430.3 71.2 L1432.6 73.5 L1437.6 68.8 M1430.3 76.9 L1432.6 79.1 L1437.6 74.4 M1430.3 82.5 L1432.6 84.7 L1437.6 80 M1439.3 72.4 H1447.7 M1439.3 78 H1447.7 M1439.3 83.6 H1447.7" fill="none" stroke="#3c3c3c" stroke-width="1.25"/>
<path d="M1465.2 68.8 H1480.8 V70.8 L1476.3 76 L1471.1 77.3 L1465.2 70.8Z" fill="#ececec"/>
<path d="M1476.3 76 L1480.8 70.8 V68.8 H1465.2 V70.8 L1471.1 77.3 V85.4" fill="none" stroke="#a6a6a6" stroke-width="1.15"/>
<path d="M1473.8 77.5 L1482.6 85.6 M1482.6 77.5 L1473.8 85.6" fill="none" stroke="#c2c2c2" stroke-width="1.2"/>
</g>
<rect x="1276.1" y="325.1" width="103.2" height="29.2" rx="3" fill="#206076"/><text x="1286.0" y="343.9" font-size="11.4" fill="#e6f5f9" stroke="#e6f5f9" stroke-width=".25" textLength="58.0" lengthAdjust="spacingAndGlyphs">Airport Road</text>
<rect x="1383.4" y="325.1" width="103.2" height="29.2" rx="3" fill="#206076"/><text x="1393.3" y="343.9" font-size="11.4" fill="#e6f5f9" stroke="#e6f5f9" stroke-width=".25" textLength="77.3" lengthAdjust="spacingAndGlyphs">Downtown Bra...</text>
<rect x="1276.1" y="358.5" width="103.2" height="29.2" rx="3" fill="#206076"/><text x="1286.0" y="377.3" font-size="11.4" fill="#e6f5f9" stroke="#e6f5f9" stroke-width=".25" textLength="73.9" lengthAdjust="spacingAndGlyphs">Eastside Center</text>
<rect x="1383.4" y="358.5" width="103.2" height="29.2" rx="3" fill="#206076"/><text x="1393.3" y="377.3" font-size="11.4" fill="#e6f5f9" stroke="#e6f5f9" stroke-width=".25" textLength="67.3" lengthAdjust="spacingAndGlyphs">Industrial Park</text>
<rect x="1276.1" y="391.8" width="103.2" height="29.2" rx="3" fill="#206076"/><text x="1286.0" y="410.6" font-size="11.4" fill="#e6f5f9" stroke="#e6f5f9" stroke-width=".25" textLength="61.7" lengthAdjust="spacingAndGlyphs">Mall Location</text>
<rect x="1383.4" y="391.8" width="103.2" height="29.2" rx="3" fill="#206076"/><text x="1393.3" y="410.6" font-size="11.4" fill="#e6f5f9" stroke="#e6f5f9" stroke-width=".25" textLength="72.8" lengthAdjust="spacingAndGlyphs">Suburban Plaza</text>
<rect x="1276.1" y="425.2" width="103.2" height="29.2" rx="3" fill="#206076"/><text x="1286.0" y="444.0" font-size="11.4" fill="#e6f5f9" stroke="#e6f5f9" stroke-width=".25" textLength="68.2" lengthAdjust="spacingAndGlyphs">University Area</text>
<rect x="1383.4" y="425.2" width="103.2" height="29.2" rx="3" fill="#206076"/><text x="1393.3" y="444.0" font-size="11.4" fill="#e6f5f9" stroke="#e6f5f9" stroke-width=".25" textLength="80.0" lengthAdjust="spacingAndGlyphs">Westfield Branch</text>
<text x="1274.8" y="492.8" font-size="11.4" fill="#2a2a2a" textLength="63.4" lengthAdjust="spacingAndGlyphs">Machine Type</text>
<g transform="translate(0 411.7)">
<path d="M1430.3 71.2 L1432.6 73.5 L1437.6 68.8 M1430.3 76.9 L1432.6 79.1 L1437.6 74.4 M1430.3 82.5 L1432.6 84.7 L1437.6 80 M1439.3 72.4 H1447.7 M1439.3 78 H1447.7 M1439.3 83.6 H1447.7" fill="none" stroke="#3c3c3c" stroke-width="1.25"/>
<path d="M1465.2 68.8 H1480.8 V70.8 L1476.3 76 L1471.1 77.3 L1465.2 70.8Z" fill="#ececec"/>
<path d="M1476.3 76 L1480.8 70.8 V68.8 H1465.2 V70.8 L1471.1 77.3 V85.4" fill="none" stroke="#a6a6a6" stroke-width="1.15"/>
<path d="M1473.8 77.5 L1482.6 85.6 M1482.6 77.5 L1473.8 85.6" fill="none" stroke="#c2c2c2" stroke-width="1.2"/>
</g>
<rect x="1276.2" y="507.1" width="103.1" height="29.0" rx="3" fill="#206076"/><text x="1286.1" y="525.8" font-size="11.4" fill="#e6f5f9" stroke="#e6f5f9" stroke-width=".25" textLength="82.4" lengthAdjust="spacingAndGlyphs">Combo Wash &amp; ...</text>
<rect x="1383.4" y="507.1" width="103.1" height="29.0" rx="3" fill="#206076"/><text x="1393.3" y="525.8" font-size="11.4" fill="#e6f5f9" stroke="#e6f5f9" stroke-width=".25" textLength="57.4" lengthAdjust="spacingAndGlyphs">Dryer - Large</text>
<rect x="1276.2" y="540.4" width="103.1" height="29.0" rx="3" fill="#206076"/><text x="1286.1" y="559.1" font-size="11.4" fill="#e6f5f9" stroke="#e6f5f9" stroke-width=".25" textLength="74.1" lengthAdjust="spacingAndGlyphs">Dryer - Standard</text>
<rect x="1383.4" y="540.4" width="103.1" height="29.0" rx="3" fill="#206076"/><text x="1393.3" y="559.1" font-size="11.4" fill="#e6f5f9" stroke="#e6f5f9" stroke-width=".25" textLength="83.1" lengthAdjust="spacingAndGlyphs">Washer - Comm...</text>
<rect x="1276.2" y="573.7" width="103.1" height="29.0" rx="3" fill="#206076"/><text x="1286.1" y="592.4" font-size="11.4" fill="#e6f5f9" stroke="#e6f5f9" stroke-width=".25" textLength="68.2" lengthAdjust="spacingAndGlyphs">Washer - Large</text>
<rect x="1383.4" y="573.7" width="103.1" height="29.0" rx="3" fill="#206076"/><text x="1393.3" y="592.4" font-size="11.4" fill="#e6f5f9" stroke="#e6f5f9" stroke-width=".25" textLength="79.8" lengthAdjust="spacingAndGlyphs">Washer - Stand...</text>
</svg>
<!--SLICER-END-->
</body>
</html>
